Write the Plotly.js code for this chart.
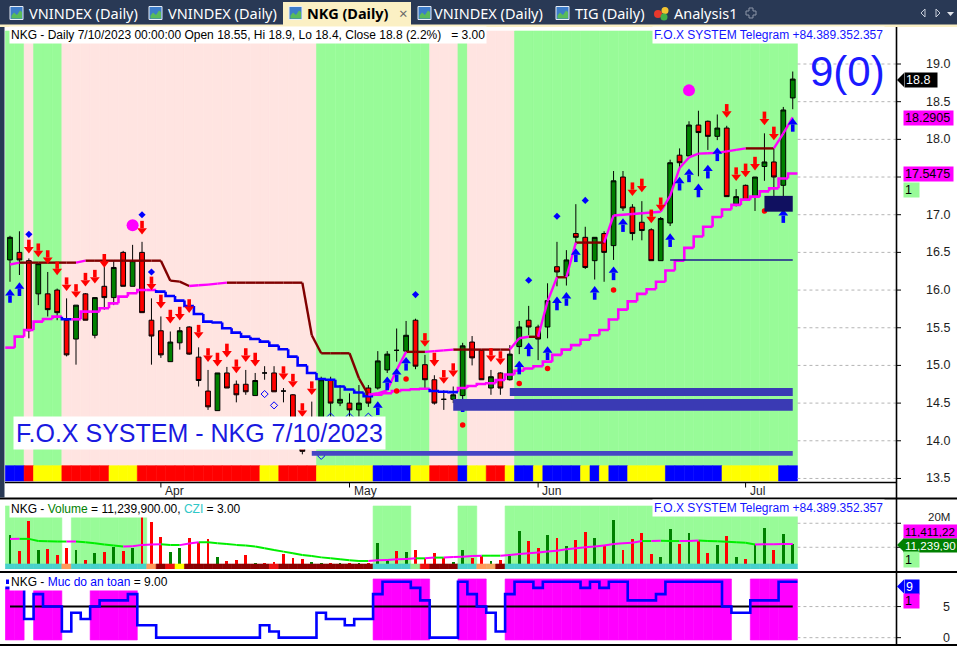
<!DOCTYPE html>
<html>
<head>
<meta charset="utf-8">
<script src="https://cdn.plot.ly/plotly-3.0.1.min.js"></script>
<style>
html,body{margin:0;padding:0;background:#fff;overflow:hidden;}
#chart{width:957px;height:646px;}
</style>
</head>
<body>
<div id="chart"></div>
<script>
// ================= DATA =================
const dates = ['2023-03-10','2023-03-13','2023-03-14','2023-03-15','2023-03-16','2023-03-17','2023-03-20','2023-03-21','2023-03-22','2023-03-23','2023-03-24','2023-03-27','2023-03-28','2023-03-29','2023-03-30','2023-03-31',
'2023-04-03','2023-04-04','2023-04-05','2023-04-06','2023-04-07','2023-04-10','2023-04-11','2023-04-12','2023-04-13','2023-04-14','2023-04-17','2023-04-18','2023-04-19','2023-04-20','2023-04-21','2023-04-24','2023-04-25','2023-04-26','2023-04-27','2023-04-28',
'2023-05-04','2023-05-05','2023-05-08','2023-05-09','2023-05-10','2023-05-11','2023-05-12','2023-05-15','2023-05-16','2023-05-17','2023-05-18','2023-05-19','2023-05-22','2023-05-23','2023-05-24','2023-05-25','2023-05-26','2023-05-29','2023-05-30','2023-05-31',
'2023-06-01','2023-06-02','2023-06-05','2023-06-06','2023-06-07','2023-06-08','2023-06-09','2023-06-12','2023-06-13','2023-06-14','2023-06-15','2023-06-16','2023-06-19','2023-06-20','2023-06-21','2023-06-22','2023-06-23','2023-06-26','2023-06-27','2023-06-28','2023-06-29','2023-06-30',
'2023-07-03','2023-07-04','2023-07-05','2023-07-06','2023-07-07','2023-07-10'];

const openP = [16.40,16.50,16.39,15.95,15.95,16.00,15.60,15.35,15.95,15.40,
 16.05,15.90,16.50,16.05,16.50,15.60,15.46,15.05,15.30,15.51,
 15.11,14.66,14.40,14.90,14.75,14.75,14.60,14.90,14.90,14.66,
 14.61,13.91,14.00,14.20,14.81,14.50,14.50,14.41,14.70,14.70,
 14.94,15.20,15.19,15.60,15.01,14.81,14.55,14.55,14.60,15.31,
 15.20,14.70,14.90,14.81,15.25,15.60,15.51,15.51,16.31,16.19,
 16.75,16.70,16.39,16.75,16.59,17.50,17.10,16.90,16.80,16.39,
 16.89,17.79,17.78,18.19,18.24,18.04,18.15,17.14,17.39,17.24,
 17.64,17.70,17.39,18.55];
const highP = [16.72,16.78,16.42,16.36,16.24,16.02,15.89,15.80,15.96,15.90,
 16.31,16.40,16.52,16.60,16.64,15.89,15.65,15.45,15.51,15.52,
 15.24,14.94,14.90,14.98,14.80,14.94,14.90,14.99,14.99,14.70,
 14.62,13.93,14.52,14.85,14.85,14.74,14.63,14.74,14.74,15.19,
 15.19,15.49,15.59,15.62,15.14,14.87,14.67,14.72,15.30,15.39,
 15.21,14.94,14.91,15.27,15.59,15.79,15.54,16.09,16.64,16.53,
 17.14,16.84,16.70,16.78,17.58,17.58,17.14,17.18,16.82,16.97,
 17.73,17.88,18.24,18.38,18.25,18.33,18.18,17.34,17.40,17.50,
 18.08,17.88,18.43,18.90];
const lowP = [16.11,16.20,15.36,15.80,15.65,15.60,15.12,15.01,15.60,15.36,
 15.74,15.80,16.05,16.05,15.70,15.01,15.10,15.05,15.21,15.14,
 14.72,14.41,14.40,14.70,14.51,14.61,14.60,14.81,14.65,14.51,
 13.95,13.82,13.90,14.15,14.32,14.46,14.32,14.32,14.45,14.68,
 14.90,15.05,15.19,14.95,14.70,14.48,14.41,14.50,14.55,15.00,
 14.81,14.61,14.61,14.80,15.15,15.40,15.07,15.36,16.05,16.06,
 16.60,16.28,16.14,16.11,16.40,17.05,16.66,16.66,16.39,16.39,
 16.85,17.59,17.78,17.51,17.86,17.99,17.24,17.11,17.19,17.05,
 17.45,17.20,17.20,18.40];
const closeP = [16.70,16.40,15.46,16.35,15.74,15.70,15.14,15.80,15.60,15.90,
 15.90,16.30,16.05,16.39,15.70,15.39,15.14,15.31,15.46,15.15,
 14.80,14.45,14.90,14.70,14.61,14.65,14.80,14.90,14.65,14.66,
 14.00,13.86,14.25,14.81,14.50,14.55,14.41,14.50,14.50,15.06,
 15.15,15.20,15.40,14.99,14.81,14.50,14.55,14.61,15.26,15.10,
 14.81,14.85,14.70,15.15,15.51,15.51,15.35,15.86,16.24,16.40,
 16.70,16.30,16.70,16.50,17.45,17.09,16.75,16.79,16.39,16.95,
 17.69,17.69,18.19,18.09,18.04,18.15,17.24,17.24,17.19,17.50,
 17.70,17.50,18.39,18.80];

// upper trailing line (maroon / magenta)
const upperLine = [16.34,16.364,16.364,16.364,16.364,16.364,16.364,16.364,
 16.39,16.39,16.39,16.39,16.39,16.39,16.39,16.39,16.39,
 16.125,16.112,16.054,16.063,16.072,16.085,16.098,
 16.098,16.098,16.098,16.098,16.098,16.098,16.098,16.098,
 15.40,15.161,15.161,15.161,15.161,
 14.83,14.61,14.63,14.67,14.94,15.18,15.18,15.18,15.19,15.20,15.21,
 15.21,15.21,15.21,15.21,15.21,15.21,
 15.36,15.38,15.38,15.85,16.17,16.17,16.63,16.63,16.63,16.63,
 16.99,17.00,17.01,17.02,17.03,17.04,
 17.25,17.62,17.76,17.81,17.815,17.82,17.84,17.86,17.88,17.88,17.88,17.88,18.08,18.2905];
// lower staircase stop (magenta / blue)
const lowerLine = [15.236,15.382,15.470,15.581,15.616,15.647,15.612,15.612,15.714,15.714,
 15.758,15.824,15.913,15.957,16.001,16.001,15.979,15.922,15.860,15.789,
 15.683,15.581,15.570,15.493,15.435,15.382,15.351,15.316,15.263,15.214,
 15.117,15.000,14.900,14.820,14.810,14.720,14.680,14.640,14.590,14.610,
 14.630,14.660,14.674,14.683,14.690,14.660,14.650,14.646,14.700,14.727,
 14.754,14.763,14.807,14.880,14.930,14.960,14.990,15.050,15.140,15.210,
 15.270,15.340,15.400,15.470,15.610,15.740,15.850,15.950,16.010,16.110,
 16.260,16.390,16.560,16.710,16.840,16.970,17.070,17.130,17.200,17.240,
 17.310,17.350,17.480,17.5475];

// background state per bar: G = green, P = pink
const mainZone = ('GGPGGG' + 'PPPPPPPPPPPPPPPPPPPPPPPPPPP' + 'GGGGGGGGGGGG' + 'PPP' + 'G' + 'PPPPP' + 'GGGGGGGGGGGGGGGGGGGGGGGGGGGGGG').split('');
// bottom colour strip: B blue, R red, Y yellow
const priceStrip = ('BBRYYYRRRRRYYYRRRRRRRRRRRRRYYRRRRYYYYYYBBBBYYRRRBYYRRYBBYBBBBYBYBBYYYYBBBBBBYYYYYYBB').split('');

const redArrowIdx = [2,3,4,5,6,7,8,9,10,14,15,16,17,18,19,20,21,22,23,24,25,26,29,30,31,32,44,45,46,47,51,52,66,67,68,69,76,77,78,79,80,81];
const redArrowAt  = [16.49,16.44,16.35,16.20,15.99,15.90,16.05,16.09,16.30,16.74,16.00,15.76,15.56,15.60,15.70,15.36,15.05,14.99,15.11,14.90,15.05,14.99,14.81,14.71,14.32,14.61,15.25,14.99,14.76,14.85,15.05,15.01,17.25,17.30,16.89,17.05,18.29,17.45,17.50,17.59,18.19,17.99];
const blueArrowIdx = [0,1,39,40,41,42,48,54,55,57,58,59,60,62,64,65,70,71,72,73,74,75,82,83];
const blueArrowAt  = [16.01,16.10,14.52,14.85,14.96,15.11,14.56,15.06,15.30,15.25,15.91,15.97,16.55,16.05,16.31,16.95,16.75,17.50,17.61,17.41,17.66,17.89,17.07,18.28];
const blueDiamondIdx = [2,14,15,43,55,58,61];
const blueDiamondAt  = [16.74,17.00,16.24,15.94,16.13,16.98,17.19];
const openDiamondIdx = [27,28,33,34,36,38];
const openDiamondAt  = [14.62,14.47,13.80,14.32,14.32,14.32];
const redDotIdx = [41,42,48,54,57,64,80];
const redDotAt  = [14.66,14.82,14.21,14.76,14.96,16.00,17.05];
const bigDotIdx = [13,72];
const bigDotAt  = [16.86,18.65];

// support zones (bar from, bar to, low, high) and level line
const zoneFrom = [53,47,32,80];
const zoneTo   = [83,83,83,83];
const zoneLow  = [14.595,14.40,13.80,17.04];
const zoneHigh = [14.70,14.555,13.865,17.25];
const levelFrom = 70, levelTo = 83, levelPrice = 16.40;

// volume pane (millions)
const volumeM = [15.1,8.5,21.0,8.9,9.3,6.8,9.8,8.9,4.7,7.5,
 8.2,10.3,8.5,9.6,23.0,20.7,14.4,8.2,9.6,14.0,
 12.3,13.3,6.1,4.4,4.7,6.8,3.5,3.5,3.7,7.2,
 5.4,5.1,4.0,3.3,3.3,3.6,3.3,3.6,3.3,11.7,
 4.7,8.5,7.9,8.9,5.7,7.5,5.7,4.0,8.9,5.4,
 6.5,4.3,4.6,7.1,16.8,12.6,9.8,15.1,14.0,10.5,
 13.0,16.4,14.0,11.0,21.4,8.9,13.5,15.8,7.1,6.0,
 17.6,11.2,15.8,12.6,7.5,11.0,14.7,6.0,5.1,11.0,
 17.9,8.9,15.4,11.2399];
const volumeMA = [13.4,13.5,13.5,12.6,12.5,12.4,12.4,12.45,12.1,11.7,
 11.2,10.7,10.3,10.4,11.0,11.2,11.25,10.96,10.9,11.6,
 12.1,12.1,11.7,11.4,11.0,10.7,10.3,9.6,8.9,8.2,
 7.5,6.8,6.4,5.8,5.4,5.0,4.6,4.3,4.3,4.6,
 4.7,5.0,5.1,5.4,5.4,5.7,5.7,6.0,6.1,6.4,
 6.5,6.5,6.5,6.8,7.2,7.5,7.8,8.2,8.6,9.2,
 9.6,10.0,10.3,10.7,11.4,11.7,11.9,12.6,12.6,12.77,
 12.6,12.6,12.65,12.8,12.6,12.5,12.35,12.1,11.9,11.2,
 11.25,11.3,11.35,11.41122];
const volZone = [1,1,1,1,1,1,0,1,1,1,1,1,1,1,1,0,0,0,0,0,0,0,0,0,0,0,0,0,0,0,0,0,0,0,0,0,0,0,0,1,1,1,1,0,0,0,0,0,1,1,0,0,0,
 1,1,1,1,1,1,1,1,1,1,1,1,1,1,1,1,1,1,1,1,1,1,1,1,1,1,1,1,1,1,1];
// T turquoise, O orange, D dark red, R red, Y yellow, L light green, S sandy
const volStrip = ('TTTTTTOTTTTTTTTODRYDDDDDDDDDRDDDDDDDDDDTTTTLRDDDTTOSD' + 'TTTTTTTTTTTTTTTTTTTTTTTTTTTTTTT').split('');

// safety pane ("Muc do an toan")
const safety = [8,8,3,7,5,5,1,4,3,5, 6,6,6,7,2,2,0,0,0,0, 0,0,0,0,0,0,0,2,1,0,
 0,0,0,4,3,3,2,3,3,7, 9,9,9,8,6,0,0,0,9,7, 5,4,1,7,9,9,8,9,9,9,
 9,8,9,8,9,9,6,6,6,7, 9,9,9,9,9,9,5,4,4,6, 6,6,9,9];
const safeThreshold = 5;
// A = lower band, B = higher band, - = none
const safeBand = ('AA-AAA---AAAAA' + '-------------------------' + 'BBBBBB---BBB--' + 'BBBBBBBBBBBBBBBBBBBBBBBB' + '--BBBBB').split('');
const safeBandTop = {A: 7.83, B: 9.44};
const safeBandBase = -0.37;

const priceTicks = [13.5,14.0,14.5,15.0,15.5,16.0,16.5,17.0,17.5,18.0,18.5,19.0];
const hiddenPriceTicks = [17.5];           // covered by the value label in the reference
const volTicks = [10,20];
const safeTicks = [0,5];
const monthNames = ['Jan','Feb','Mar','Apr','May','Jun','Jul','Aug','Sep','Oct','Nov','Dec'];

// ================= LAYOUT HELPERS =================
const W = 957, H = 646;
const FONT = 'Liberation Sans, Arial, Helvetica, sans-serif';
const TABFONT = 'Noto Sans, Open Sans, sans-serif';
const px = x => x / W, py = y => 1 - y / H;
const N = dates.length;
const xi = dates.map((d, i) => i);
const xRange = [-0.53, 93.95];
const yMain = [13.453, 19.491];
const PPX = (yMain[1] - yMain[0]) / 455;
const yVol = [-0.29, 30.1];
const ySafe = [-1.34, 10.56];
const lastX = N - 1;

const GREEN_BG = '#98fb98', PINK_BG = '#ffe4e1', MAG = '#ff00ff', MAROON = '#800000';
const traces = [];
const skip = {hoverinfo: 'skip', showlegend: false};

// ---- main pane backgrounds
const zoneTop = yMain[1] - 4 * PPX, stripTop = yMain[0] + 16.3 * PPX, stripBot = yMain[0] + 1 * PPX;
const zc = mainZone.slice(0, N).map(c => c === 'G' ? GREEN_BG : PINK_BG);
traces.push(Object.assign({type: 'bar', x: xi, y: xi.map(() => zoneTop - stripTop), base: stripTop, width: 1,
  marker: {color: zc, line: {color: zc, width: 0.6}}, xaxis: 'x', yaxis: 'y'}, skip));
const sc = priceStrip.map(c => ({B: '#0000ff', R: '#ff0000', Y: '#ffff00'})[c]);
traces.push(Object.assign({type: 'bar', x: xi, y: xi.map(() => stripTop - stripBot), base: stripBot, width: 1,
  marker: {color: sc, line: {color: sc, width: 0.6}}, xaxis: 'x', yaxis: 'y'}, skip));

// ---- candles
traces.push(Object.assign({type: 'candlestick', x: xi, open: openP, high: highP, low: lowP, close: closeP,
  increasing: {line: {color: '#000000', width: 1}, fillcolor: '#008000'},
  decreasing: {line: {color: '#000000', width: 1}, fillcolor: '#ff0000'},
  xaxis: 'x', yaxis: 'y'}, skip));

// ---- coloured lines
function colorSegments(vals, upColor, downColor, yaxis, width) {
  const up = {x: [], y: []}, dn = {x: [], y: []};
  for (let i = 1; i < vals.length; i++) {
    const t = vals[i] > vals[i - 1] ? up : dn;
    t.x.push(i - 1, i, null); t.y.push(vals[i - 1], vals[i], null);
  }
  return [[dn, downColor], [up, upColor]].map(([t, c]) => Object.assign({type: 'scatter', mode: 'lines', x: t.x, y: t.y,
    line: {color: c, width: width}, xaxis: 'x', yaxis: yaxis}, skip));
}
function stairSegments(vals, upColor, downColor, yaxis, width) {
  const up = {x: [], y: []}, dn = {x: [], y: []};
  vals.forEach((v, i) => {
    const t = (i > 0 && v < vals[i - 1]) ? dn : up;
    if (i > 0) { t.x.push(i - 0.5); t.y.push(vals[i - 1]); }
    t.x.push(i - 0.5, i + 0.5, null); t.y.push(v, v, null);
  });
  return [[up, upColor], [dn, downColor]].map(([t, c]) => Object.assign({type: 'scatter', mode: 'lines', x: t.x, y: t.y,
    line: {color: c, width: width}, xaxis: 'x', yaxis: yaxis}, skip));
}
traces.push(...stairSegments(lowerLine, MAG, '#0000ff', 'y', 2.6));
traces.push(...colorSegments(upperLine, MAG, MAROON, 'y', 2.4));

// ---- level line
traces.push(Object.assign({type: 'scatter', mode: 'lines', x: [levelFrom, levelTo], y: [levelPrice, levelPrice],
  line: {color: '#1c1c8c', width: 1.6}, xaxis: 'x', yaxis: 'y'}, skip));

// ---- signal markers
function arrows(idx, tips, down, color) {
  const s = down ? 1 : -1;
  return [
    Object.assign({type: 'scatter', mode: 'markers', x: idx, y: tips.map(p => p + s * 4 * PPX),
      marker: {symbol: down ? 'triangle-down' : 'triangle-up', size: 8.5, color: color, line: {width: 0}}, xaxis: 'x', yaxis: 'y'}, skip),
    Object.assign({type: 'scatter', mode: 'markers', x: idx, y: tips.map(p => p + s * 9.8 * PPX),
      marker: {symbol: 'line-ns', size: 5.2, color: color, line: {color: color, width: 3.6}}, xaxis: 'x', yaxis: 'y'}, skip)
  ];
}
traces.push(...arrows(redArrowIdx, redArrowAt, true, '#ff0000'));
traces.push(...arrows(blueArrowIdx, blueArrowAt, false, '#0000ff'));
traces.push(Object.assign({type: 'scatter', mode: 'markers', x: blueDiamondIdx, y: blueDiamondAt,
  marker: {symbol: 'diamond', size: 5.5, color: '#0000ff', line: {width: 0}}, xaxis: 'x', yaxis: 'y'}, skip));
traces.push(Object.assign({type: 'scatter', mode: 'markers', x: openDiamondIdx, y: openDiamondAt,
  marker: {symbol: 'diamond-open', size: 5.5, color: '#0000ff', line: {color: '#0000ff', width: 1}}, xaxis: 'x', yaxis: 'y'}, skip));
traces.push(Object.assign({type: 'scatter', mode: 'markers', x: redDotIdx, y: redDotAt,
  marker: {symbol: 'circle', size: 5.5, color: '#ff0000', line: {width: 0}}, xaxis: 'x', yaxis: 'y'}, skip));
traces.push(Object.assign({type: 'scatter', mode: 'markers', x: bigDotIdx, y: bigDotAt,
  marker: {symbol: 'circle', size: 12, color: MAG, line: {width: 0}}, xaxis: 'x', yaxis: 'y'}, skip));

// ---- volume pane
const vZoneBase = 3.04, vZoneTop = 27.2, vStripBase = 0.96;
const vzc = volZone.map(v => v ? GREEN_BG : 'rgba(0,0,0,0)');
traces.push(Object.assign({type: 'bar', x: xi, y: xi.map(() => vZoneTop - vZoneBase), base: vZoneBase, width: 1,
  marker: {color: vzc, line: {color: vzc, width: 0.6}}, xaxis: 'x', yaxis: 'y2'}, skip));
traces.push(Object.assign({type: 'bar', x: xi, y: volumeM, base: 0, width: 0.3,
  marker: {color: closeP.map((c, i) => c > openP[i] ? '#008000' : '#ff0000'), line: {width: 0}}, xaxis: 'x', yaxis: 'y2'}, skip));
const vsc = volStrip.map(c => ({T: '#48d1cc', O: '#ff9a5a', D: '#8b0000', R: '#ee1111', Y: '#ffff00', L: '#90ee90', S: '#f4a460'})[c]);
traces.push(Object.assign({type: 'bar', x: xi, y: xi.map(() => vZoneBase - vStripBase), base: vStripBase, width: 1,
  marker: {color: vsc, line: {color: vsc, width: 0.6}}, xaxis: 'x', yaxis: 'y2'}, skip));
traces.push(Object.assign({type: 'bar', x: xi, y: xi.map(() => vStripBase - yVol[0]), base: yVol[0], width: 1.02,
  marker: {color: '#ffffff', line: {width: 0}}, xaxis: 'x', yaxis: 'y2'}, skip));
traces.push(...colorSegments(volumeMA, MAG, '#00ee00', 'y2', 2));

// ---- safety pane
const sbc = safeBand.map(c => c === '-' ? null : safeBandTop[c] - safeBandBase);
traces.push(Object.assign({type: 'bar', x: xi, y: sbc, base: safeBandBase, width: 1,
  marker: {color: MAG, line: {color: MAG, width: 0.6}}, xaxis: 'x', yaxis: 'y3'}, skip));
traces.push(Object.assign({type: 'scatter', mode: 'lines', x: [0, lastX], y: [safeThreshold, safeThreshold],
  line: {color: '#000000', width: 2}, xaxis: 'x', yaxis: 'y3'}, skip));
(function () {
  const sx = [], sy = [];
  safety.forEach((v, i) => { sx.push(i - 0.5, i + 0.5); sy.push(v, v); });
  traces.push(Object.assign({type: 'scatter', mode: 'lines', x: sx, y: sy,
    line: {color: '#0000ff', width: 2.6}, xaxis: 'x', yaxis: 'y3'}, skip));
})();

// ================= SHAPES =================
const shapes = [];
const rectP = (x0, y0, x1, y1, fill, line, lw, layer) => shapes.push({type: 'rect', xref: 'paper', yref: 'paper',
  x0: px(x0), x1: px(x1), y0: py(y1), y1: py(y0), fillcolor: fill, line: {color: line || fill, width: lw || 0}, layer: layer || 'above'});
const lineP = (x0, y0, x1, y1, color, w, dash) => shapes.push({type: 'line', xref: 'paper', yref: 'paper',
  x0: px(x0), x1: px(x1), y0: py(y0), y1: py(y1), line: {color: color, width: w, dash: dash || 'solid'}, layer: 'above'});
const pathP = (pts, fill, line, lw) => shapes.push({type: 'path', xref: 'paper', yref: 'paper',
  path: 'M' + pts.map(p => px(p[0]).toFixed(5) + ',' + py(p[1]).toFixed(5)).join('L') + 'Z',
  fillcolor: fill, line: {color: line || fill, width: lw || 0}, layer: 'above'});
const circP = (cx, cy, r, fill) => shapes.push({type: 'circle', xref: 'paper', yref: 'paper',
  x0: px(cx - r), x1: px(cx + r), y0: py(cy + r), y1: py(cy - r), fillcolor: fill, line: {width: 0}, layer: 'above'});

// support zones
const zoneColors = ['#3a3ab4', '#3a3ab4', '#4646c4', '#101060'];
zoneFrom.forEach((f, k) => shapes.push({type: 'rect', xref: 'x', yref: 'y', x0: f, x1: zoneTo[k], y0: zoneLow[k], y1: zoneHigh[k],
  fillcolor: zoneColors[k], line: {width: 0}, layer: 'above'}));

// gridlines (visible right of the last bar) and ticks
priceTicks.forEach(t => {
  shapes.push({type: 'line', xref: 'x', yref: 'y', x0: lastX + 0.5, x1: xRange[1], y0: t, y1: t, line: {color: '#b4b4b4', width: 1, dash: 'dot'}, layer: 'above'});
  shapes.push({type: 'line', xref: 'paper', yref: 'y', x0: px(896), x1: px(901), y0: t, y1: t, line: {color: '#000', width: 1}, layer: 'above'});
});
volTicks.forEach(t => {
  shapes.push({type: 'line', xref: 'x', yref: 'y2', x0: lastX + 0.5, x1: xRange[1], y0: t, y1: t, line: {color: '#b4b4b4', width: 1, dash: 'dot'}, layer: 'above'});
  shapes.push({type: 'line', xref: 'paper', yref: 'y2', x0: px(896), x1: px(901), y0: t, y1: t, line: {color: '#000', width: 1}, layer: 'above'});
});
safeTicks.forEach(t => {
  shapes.push({type: 'line', xref: 'x', yref: 'y3', x0: lastX + 0.5, x1: xRange[1], y0: t, y1: t, line: {color: '#b4b4b4', width: 1, dash: 'dot'}, layer: 'above'});
  shapes.push({type: 'line', xref: 'paper', yref: 'y3', x0: px(896), x1: px(901), y0: t, y1: t, line: {color: '#000', width: 1}, layer: 'above'});
});

// month ticks
const monthIdx = [];
dates.forEach((d, i) => { if (i > 0 && d.slice(5, 7) !== dates[i - 1].slice(5, 7)) monthIdx.push(i); });
monthIdx.forEach(i => shapes.push({type: 'line', xref: 'x', yref: 'paper', x0: i, x1: i, y0: py(483), y1: py(487.5), line: {color: '#000', width: 1}, layer: 'above'}));

// pane frames
lineP(5, 482.5, 896, 482.5, '#000', 1.6);
lineP(0, 498.5, 957, 498.5, '#000', 2);
lineP(0, 572, 957, 572, '#000', 2);
lineP(0, 645, 957, 645, '#000', 2);
lineP(896.5, 27, 896.5, 646, '#000', 1.6);
rectP(0, 25, 4.5, 497.5, '#293955');

// tab bar
rectP(0, 0, 957, 25, '#293955');
rectP(0, 24.5, 957, 27, '#fbf0c4');
rectP(283, 2, 411, 26, '#fbf0c4');
function chartIcon(x, y) {
  rectP(x, y, x + 13, y + 13, '#3d7cc9', '#e6edf7', 1);
  pathP([[x + 1.5, y + 12], [x + 1.5, y + 9], [x + 4, y + 6], [x + 7, y + 8.5], [x + 10, y + 4], [x + 12, y + 5.5], [x + 12, y + 12]], '#59bb5a');
}
[10, 149, 289, 418, 556].forEach(x => chartIcon(x, 6.5));
circP(658, 14, 4, '#e8382c'); circP(665, 10.5, 3.5, '#f4c430'); circP(664, 17, 3.5, '#43b047');
pathP([[749, 8], [753, 8], [753, 11], [756, 11], [756, 15], [753, 15], [753, 18], [749, 18], [749, 15], [746, 15], [746, 11], [749, 11]], 'rgba(0,0,0,0)', '#8c96a8', 1);
pathP([[925, 9], [921, 13], [925, 17]], 'rgba(0,0,0,0)', '#c8ceda', 1);
pathP([[936, 9], [940, 13], [936, 17]], 'rgba(0,0,0,0)', '#c8ceda', 1);
pathP([[947, 12], [954, 12], [950.5, 16]], '#dfe3ea');

// value label pointers
pathP([[897, 80], [904, 73], [904, 87]], '#000000');
pathP([[897, 545], [904, 538], [904, 552]], '#008000');
pathP([[897, 586.5], [904, 579.5], [904, 593.5]], '#0000ff');

// ================= ANNOTATIONS =================
const annotations = [];
const A = o => annotations.push(Object.assign({showarrow: false, xref: 'paper', yref: 'paper', xanchor: 'left', yanchor: 'middle',
  font: {family: FONT, size: 12, color: '#000'}}, o));
const fmt2 = v => v.toFixed(2);
const last = N - 1;
const chg = (closeP[last] - closeP[last - 1]) / closeP[last - 1] * 100;
const dParts = dates[last].split('-');
const dStr = (+dParts[1]) + '/' + (+dParts[2]) + '/' + dParts[0];

// tabs
const tabFont = {family: TABFONT, size: 14.5, color: '#ffffff'};
A({text: 'VNINDEX (Daily)', x: px(27), y: py(13), font: tabFont});
A({text: 'VNINDEX (Daily)', x: px(166), y: py(13), font: tabFont});
A({text: '<b>NKG (Daily)</b>', x: px(305), y: py(13), font: {family: TABFONT, size: 14.5, color: '#000'}});
A({text: '×', x: px(397), y: py(13), font: {family: TABFONT, size: 15, color: '#6a6a6a'}});
A({text: 'VNINDEX (Daily)', x: px(432), y: py(13), font: tabFont});
A({text: 'TIG (Daily)', x: px(573), y: py(13), font: tabFont});
A({text: 'Analysis1', x: px(672), y: py(13), font: tabFont});

// headers
A({text: 'NKG - Daily ' + dStr + ' 00:00:00 Open ' + openP[last] + ', Hi ' + highP[last] + ', Lo ' + lowP[last] + ', Close ' + closeP[last] +
  ' (' + chg.toFixed(1) + '%)\u00a0\u00a0\u00a0= 3.00', x: px(9), y: py(35), bgcolor: '#ffffff', borderpad: 1});
A({text: 'F.O.X SYSTEM Telegram +84.389.352.357', x: px(885), xanchor: 'right', y: py(35), bgcolor: '#ffffff', borderpad: 1,
  font: {family: FONT, size: 12, color: '#1414ff'}});
A({text: 'F.O.X SYSTEM - NKG ' + dStr, x: px(13), y: py(433), bgcolor: '#ffffff', borderpad: 2,
  font: {family: FONT, size: 25, color: '#1a1ae0'}});
A({text: '9(0)', x: px(847), xanchor: 'center', y: py(72), font: {family: FONT, size: 42, color: '#1a1aff'}});

A({text: 'NKG - <span style="color:#008000">Volume</span> = ' + Math.round(volumeM[last] * 1e6).toLocaleString('en-US') +
  '.00, <span style="color:#30c8c8">CZI</span> = 3.00', x: px(9), y: py(509), bgcolor: '#ffffff', borderpad: 1});
A({text: 'F.O.X SYSTEM Telegram +84.389.352.357', x: px(885), xanchor: 'right', y: py(508), bgcolor: '#ffffff', borderpad: 1,
  font: {family: FONT, size: 12, color: '#1414ff'}});
rectP(6, 579.5, 9, 584, '#0000ff');
A({text: 'NKG - <span style="color:#0000ff">Muc do an toan</span> = ' + fmt2(safety[last]), x: px(9), y: py(582), bgcolor: '#ffffff', borderpad: 1});

// month labels
monthIdx.forEach(i => A({text: monthNames[+dates[i].slice(5, 7) - 1], xref: 'x', x: i, xshift: 2, y: py(491),
  font: {family: FONT, size: 12, color: '#1e1e1e'}}));

// axis tick labels
priceTicks.filter(t => hiddenPriceTicks.indexOf(t) < 0).forEach(t => A({text: t.toFixed(1), x: px(952), xanchor: 'right', yref: 'y', y: t,
  font: {family: FONT, size: 12.5, color: '#1e1e1e'}}));
A({text: '20M', x: px(952), xanchor: 'right', yref: 'y2', y: 20, yshift: 6, font: {family: FONT, size: 11.5, color: '#1e1e1e'}});
safeTicks.forEach(t => A({text: String(t), x: px(952), xanchor: 'right', yref: 'y3', y: t, font: {family: FONT, size: 12.5, color: '#1e1e1e'}}));

// value labels (the volume ones are truncated by the pane edge, as in the reference)
const box = (text, x0, y0, x1, y1, bg, fg, fs) => A({text: text, x: px(x0), y: py((y0 + y1) / 2), width: x1 - x0 - 2, height: y1 - y0 - 2,
  align: 'left', bgcolor: bg, borderpad: 1, font: {family: FONT, size: fs || 12.5, color: fg}});
const trunc9 = v => Math.round(v * 1e6).toLocaleString('en-US').slice(0, 9);
box(String(closeP[last]), 904, 73, 936, 87, '#000000', '#ffffff');
box(upperLine[last].toFixed(4), 903, 111, 952, 125, MAG, '#000000');
box(lowerLine[last].toFixed(4), 903, 167, 952, 181, MAG, '#000000');
box('1', 903, 183, 918, 197, GREEN_BG, '#000000');
box(trunc9(volumeMA[last]), 903, 525, 957, 538, MAG, '#000000', 11.6);
box(trunc9(volumeM[last]), 903, 539, 957, 552, '#008000', '#ffffff', 11.6);
box('1', 903, 552, 918, 567, GREEN_BG, '#000000');
box(String(safety[last]), 904, 579.5, 918, 593.5, '#0000ff', '#ffffff');
box('1', 903, 594, 918, 608, MAG, '#000000');

// ================= RENDER =================
const layout = {
  width: W, height: H,
  margin: {l: 0, r: 0, t: 0, b: 0, pad: 0},
  paper_bgcolor: '#ffffff', plot_bgcolor: 'rgba(0,0,0,0)',
  showlegend: false, hovermode: false,
  barmode: 'overlay', bargap: 0, boxgap: 0.28,
  font: {family: FONT, size: 12, color: '#000'},
  xaxis: {domain: [px(5), px(896)], range: xRange, visible: false, fixedrange: true, anchor: 'y', rangeslider: {visible: false}},
  yaxis: {domain: [py(482), py(27)], range: yMain, visible: false, fixedrange: true, anchor: 'x'},
  yaxis2: {domain: [py(572), py(499)], range: yVol, visible: false, fixedrange: true, anchor: 'x'},
  yaxis3: {domain: [0, py(572)], range: ySafe, visible: false, fixedrange: true, anchor: 'x'},
  shapes: shapes, annotations: annotations
};
Plotly.newPlot('chart', traces, layout, {staticPlot: true, displayModeBar: false});
</script>
</body>
</html>
